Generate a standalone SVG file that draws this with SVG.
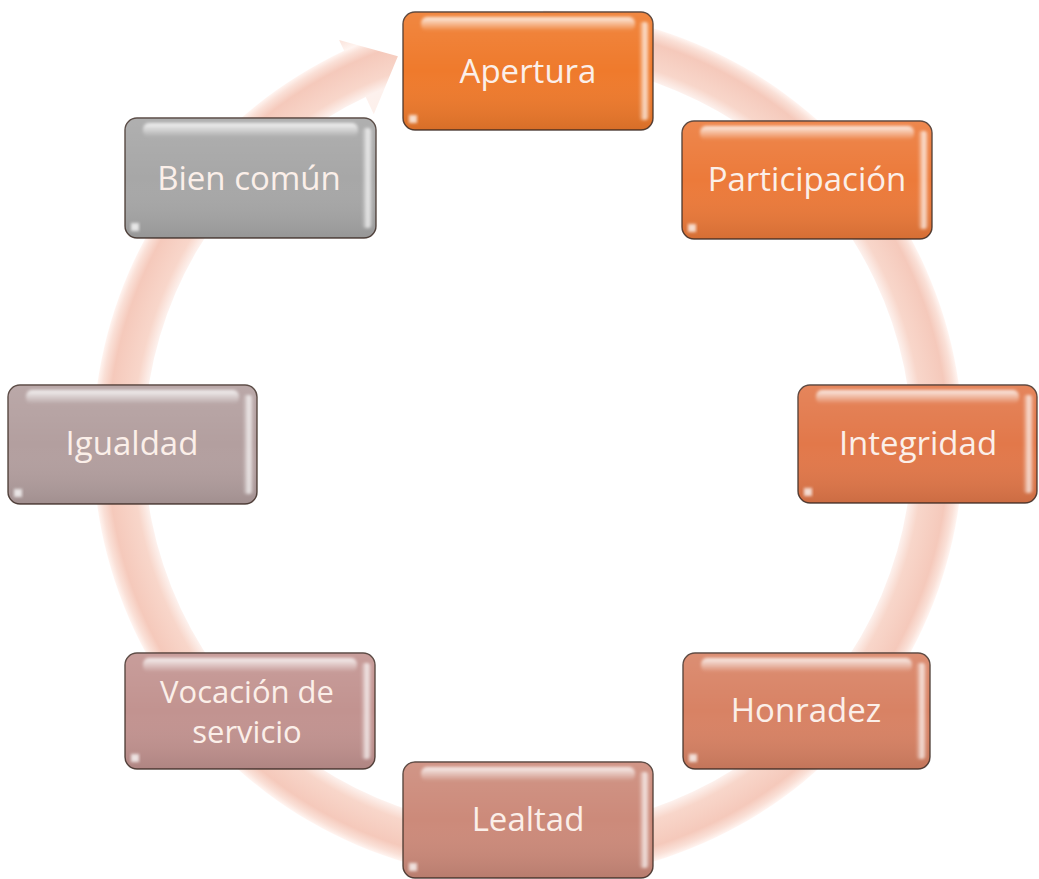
<svg xmlns="http://www.w3.org/2000/svg" width="1039" height="879" viewBox="0 0 1039 879">
<defs>
<radialGradient id="ringGrad" gradientUnits="userSpaceOnUse" cx="528" cy="445" r="452">
<stop offset="0.80" stop-color="#fdf0eb"/>
<stop offset="0.85" stop-color="#fdf1ed"/>
<stop offset="0.875" stop-color="#f8d6ca"/>
<stop offset="0.93" stop-color="#f5c9bb"/>
<stop offset="0.95" stop-color="#fae0d7"/>
<stop offset="0.962" stop-color="#fff4f0"/>
<stop offset="1" stop-color="#f8dbd1"/>
</radialGradient>
<linearGradient id="shade" x1="0" y1="0" x2="0" y2="1">
<stop offset="0" stop-color="#ffffff" stop-opacity="0.10"/>
<stop offset="0.5" stop-color="#ffffff" stop-opacity="0"/>
<stop offset="1" stop-color="#000000" stop-opacity="0.10"/>
</linearGradient>
<linearGradient id="topGloss" x1="0" y1="0" x2="0" y2="1">
<stop offset="0" stop-color="#ffffff" stop-opacity="0.85"/>
<stop offset="1" stop-color="#ffffff" stop-opacity="0"/>
</linearGradient>
<linearGradient id="sideGloss" x1="0" y1="0" x2="1" y2="0">
<stop offset="0" stop-color="#ffffff" stop-opacity="0"/>
<stop offset="0.6" stop-color="#ffffff" stop-opacity="0.8"/>
<stop offset="1" stop-color="#ffffff" stop-opacity="0.2"/>
</linearGradient>
<filter id="soft" x="-20%" y="-50%" width="140%" height="200%">
<feGaussianBlur stdDeviation="1.8"/>
</filter>
</defs>
<style>
.box{stroke:#3d2c24;stroke-width:1.4;stroke-opacity:0.85}
.shade{fill:url(#shade)}
.tg{fill:url(#topGloss)}
.sg{fill:url(#sideGloss)}
.dot{fill:#ffffff;fill-opacity:0.75}
.lbl{font-family:"Open Sans","Noto Sans","Liberation Sans",sans-serif;font-size:33px;fill:#fbefe9;text-anchor:middle}
.lbl2{font-size:31px}
</style>

<g id="connectors">
<path id="cycle-arrow" d="M 543.2,10.3 A 435 435 0 1 1 344.2,50.8 L 339.1,39.9 L 397.9,56.2 L 373.8,114.2 L 365.7,97.0 A 384 384 0 1 0 541.4,61.2 Z" fill="url(#ringGrad)"/>
</g>

<g id="apertura" transform="translate(403,12)">
<rect class="box" width="250" height="118" rx="12" fill="#ef7a2c"/>
<rect class="shade" width="250" height="118" rx="12"/>
<rect class="tg" x="18" y="5" width="214" height="14" rx="6" filter="url(#soft)"/>
<rect class="sg" x="236" y="10" width="10" height="98" rx="4" filter="url(#soft)"/>
<rect class="dot" x="6" y="103" width="8" height="8" filter="url(#soft)"/>
<text class="lbl" x="125" y="71">Apertura</text>
</g>

<g id="participacion" transform="translate(682,121)">
<rect class="box" width="250" height="118" rx="12" fill="#ec7a3a"/>
<rect class="shade" width="250" height="118" rx="12"/>
<rect class="tg" x="18" y="5" width="214" height="14" rx="6" filter="url(#soft)"/>
<rect class="sg" x="236" y="10" width="10" height="98" rx="4" filter="url(#soft)"/>
<rect class="dot" x="6" y="103" width="8" height="8" filter="url(#soft)"/>
<text class="lbl" x="125" y="70">Participación</text>
</g>

<g id="integridad" transform="translate(798,385)">
<rect class="box" width="239" height="118" rx="12" fill="#e2784a"/>
<rect class="shade" width="239" height="118" rx="12"/>
<rect class="tg" x="18" y="5" width="203" height="14" rx="6" filter="url(#soft)"/>
<rect class="sg" x="225" y="10" width="10" height="98" rx="4" filter="url(#soft)"/>
<rect class="dot" x="6" y="103" width="8" height="8" filter="url(#soft)"/>
<text class="lbl" x="120" y="70">Integridad</text>
</g>

<g id="honradez" transform="translate(683,653)">
<rect class="box" width="247" height="116" rx="12" fill="#d88264"/>
<rect class="shade" width="247" height="116" rx="12"/>
<rect class="tg" x="18" y="5" width="211" height="14" rx="6" filter="url(#soft)"/>
<rect class="sg" x="233" y="10" width="10" height="96" rx="4" filter="url(#soft)"/>
<rect class="dot" x="6" y="101" width="8" height="8" filter="url(#soft)"/>
<text class="lbl" x="123" y="69">Honradez</text>
</g>

<g id="lealtad" transform="translate(403,762)">
<rect class="box" width="250" height="116" rx="12" fill="#cc8a7a"/>
<rect class="shade" width="250" height="116" rx="12"/>
<rect class="tg" x="18" y="5" width="214" height="14" rx="6" filter="url(#soft)"/>
<rect class="sg" x="236" y="10" width="10" height="96" rx="4" filter="url(#soft)"/>
<rect class="dot" x="6" y="101" width="8" height="8" filter="url(#soft)"/>
<text class="lbl" x="125" y="69">Lealtad</text>
</g>

<g id="vocacion" transform="translate(125,653)">
<rect class="box" width="250" height="116" rx="12" fill="#c29390"/>
<rect class="shade" width="250" height="116" rx="12"/>
<rect class="tg" x="18" y="5" width="214" height="14" rx="6" filter="url(#soft)"/>
<rect class="sg" x="236" y="10" width="10" height="96" rx="4" filter="url(#soft)"/>
<rect class="dot" x="6" y="101" width="8" height="8" filter="url(#soft)"/>
<text class="lbl lbl2" x="122" y="50">Vocación de</text>
<text class="lbl lbl2" x="122" y="90">servicio</text>
</g>

<g id="igualdad" transform="translate(8,385)">
<rect class="box" width="249" height="119" rx="12" fill="#b39f9f"/>
<rect class="shade" width="249" height="119" rx="12"/>
<rect class="tg" x="18" y="5" width="213" height="14" rx="6" filter="url(#soft)"/>
<rect class="sg" x="235" y="10" width="10" height="99" rx="4" filter="url(#soft)"/>
<rect class="dot" x="6" y="104" width="8" height="8" filter="url(#soft)"/>
<text class="lbl" x="124" y="70">Igualdad</text>
</g>

<g id="bien-comun" transform="translate(125,118)">
<rect class="box" width="251" height="120" rx="12" fill="#a7a7a7"/>
<rect class="shade" width="251" height="120" rx="12"/>
<rect class="tg" x="18" y="5" width="215" height="14" rx="6" filter="url(#soft)"/>
<rect class="sg" x="237" y="10" width="10" height="100" rx="4" filter="url(#soft)"/>
<rect class="dot" x="6" y="105" width="8" height="8" filter="url(#soft)"/>
<text class="lbl" x="124" y="72">Bien común</text>
</g>
</svg>
